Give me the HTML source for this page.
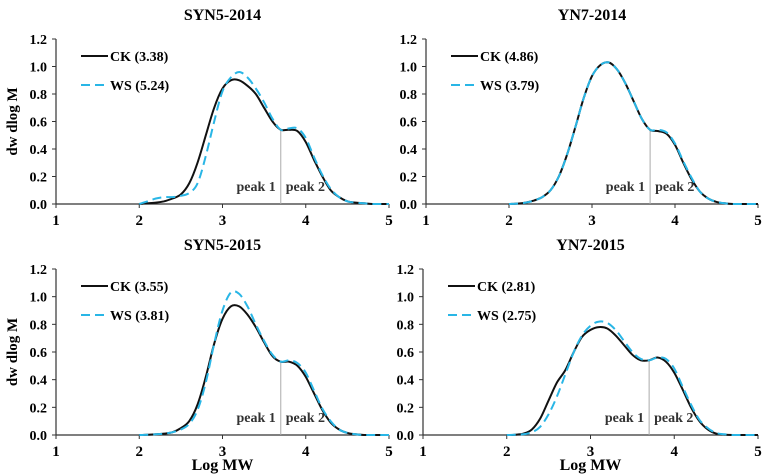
<!DOCTYPE html>
<html><head><meta charset="utf-8"><style>
body{margin:0;background:#fff}
svg{display:block;font-family:"Liberation Serif",serif;font-weight:bold}
</style></head><body>
<svg id="c" width="770" height="476" viewBox="0 0 770 476"></svg>
<script>
const xs=[2.0,2.1,2.2,2.3,2.4,2.5,2.6,2.7,2.8,2.9,3.0,3.1,3.2,3.3,3.4,3.5,3.6,3.7,3.8,3.9,4.0,4.1,4.2,4.3,4.4,4.5,4.6,4.7,4.8,4.9,5.0];
const titles=["SYN5-2014","YN7-2014","SYN5-2015","YN7-2015"];
const ckLabels=["CK (3.38)","CK (4.86)","CK (3.55)","CK (2.81)"];
const wsLabels=["WS (5.24)","WS (3.79)","WS (3.81)","WS (2.75)"];
const yTicks=[0,0.2,0.4,0.6,0.8,1.0,1.2];
const xTicks=[1,2,3,4,5];
const ck1=[0,0.005,0.01,0.02,0.04,0.07,0.15,0.3,0.5,0.7,0.84,0.9,0.9,0.86,0.8,0.7,0.6,0.54,0.54,0.53,0.45,0.32,0.2,0.1,0.05,0.02,0.01,0.005,0,0,0];
const ws1=[0,0.02,0.04,0.05,0.05,0.06,0.08,0.15,0.35,0.6,0.82,0.92,0.96,0.92,0.84,0.74,0.62,0.54,0.55,0.55,0.48,0.34,0.21,0.11,0.05,0.02,0.01,0.005,0,0,0];
const ck2=[0,0.003,0.01,0.025,0.05,0.1,0.2,0.36,0.56,0.77,0.93,1.01,1.03,0.98,0.88,0.75,0.62,0.54,0.53,0.51,0.43,0.3,0.18,0.09,0.04,0.015,0.005,0,0,0,0];
const ws2=[0,0.003,0.01,0.025,0.05,0.1,0.2,0.36,0.56,0.77,0.93,1.01,1.03,0.98,0.88,0.75,0.62,0.54,0.54,0.52,0.44,0.31,0.19,0.09,0.04,0.015,0.005,0,0,0,0];
const ck3=[0,0.002,0.005,0.01,0.02,0.05,0.1,0.22,0.42,0.66,0.84,0.93,0.93,0.87,0.78,0.67,0.57,0.53,0.53,0.5,0.42,0.3,0.18,0.09,0.04,0.015,0.005,0,0,0,0];
const ws3=[0,0.002,0.005,0.01,0.02,0.04,0.08,0.18,0.38,0.66,0.9,1.03,1.02,0.93,0.8,0.68,0.58,0.53,0.54,0.52,0.45,0.32,0.19,0.1,0.04,0.015,0.005,0,0,0,0];
const ck4=[0,0.002,0.01,0.04,0.12,0.25,0.38,0.47,0.6,0.71,0.76,0.78,0.77,0.72,0.65,0.58,0.54,0.54,0.56,0.53,0.45,0.33,0.2,0.1,0.04,0.01,0.003,0,0,0,0];
const ws4=[0,0.002,0.005,0.02,0.06,0.15,0.28,0.44,0.6,0.72,0.79,0.82,0.81,0.76,0.68,0.6,0.55,0.54,0.56,0.55,0.48,0.35,0.22,0.11,0.05,0.015,0.005,0,0,0,0];
const ckSeries=[ck1,ck2,ck3,ck4];
const wsSeries=[ws1,ws2,ws3,ws4];
const peakSplit=3.7;

const panels=[{x0:56,x5:389,y0:204,y12:39},{x0:426,x5:758,y0:204,y12:39},{x0:56,x5:389,y0:435,y12:269},{x0:423,x5:758,y0:435,y12:269}];
const NS="http://www.w3.org/2000/svg";
const svg=document.getElementById('c');
function mk(tag,attrs,parent,text){const e=document.createElementNS(NS,tag);for(const k in attrs)e.setAttribute(k,attrs[k]);if(text!==undefined)e.textContent=text;(parent||svg).appendChild(e);return e;}
function pathFor(pts){let d="M"+pts[0][0]+","+pts[0][1];for(let i=0;i<pts.length-1;i++){const p0=pts[Math.max(0,i-1)],p1=pts[i],p2=pts[i+1],p3=pts[Math.min(pts.length-1,i+2)];const c1=[p1[0]+(p2[0]-p0[0])/6,p1[1]+(p2[1]-p0[1])/6],c2=[p2[0]-(p3[0]-p1[0])/6,p2[1]-(p3[1]-p1[1])/6];d+=" C"+c1[0].toFixed(1)+","+c1[1].toFixed(1)+" "+c2[0].toFixed(1)+","+c2[1].toFixed(1)+" "+p2[0].toFixed(1)+","+p2[1].toFixed(1);}return d;}

panels.forEach((P,i)=>{
  const g=mk('g',{});
  
  
  const sx=v=>P.x0+(v-1)/4*(P.x5-P.x0);
  const sy=v=>P.y0-v/1.2*(P.y0-P.y12);
  const t=mk('text',{x:(P.x0+P.x5)/2,y:P.y12-19,'text-anchor':'middle','font-size':16},g,titles[i]);
  
  
  const ax=mk('line',{x1:P.x0,x2:P.x5,y1:P.y0,y2:P.y0,stroke:'#333','stroke-width':1.2},g);
  
  
  const ay=mk('line',{x1:P.x0,x2:P.x0,y1:P.y0,y2:P.y12,stroke:'#333','stroke-width':1.2},g);
  
  
  yTicks.forEach(v=>{
    mk('line',{x1:P.x0-4,x2:P.x0,y1:sy(v),y2:sy(v),stroke:'#333'},g);
    const l=mk('text',{x:P.x0-9,y:sy(v)+5,'text-anchor':'end','font-size':14},g,v.toFixed(1));
    
    
  });
  xTicks.forEach(v=>{
    mk('line',{x1:sx(v),x2:sx(v),y1:P.y0,y2:P.y0+4,stroke:'#333'},g);
    const l=mk('text',{x:sx(v),y:P.y0+21,'text-anchor':'middle','font-size':15},g,String(v));
    
    
  });
  const k=xs.indexOf(peakSplit);
  const sl=mk('line',{x1:sx(peakSplit),x2:sx(peakSplit),y1:P.y0,y2:sy(ckSeries[i][k]),stroke:'#aaa','stroke-width':1},g);
  
  
  const p1=mk('text',{x:sx(peakSplit)-5,y:P.y0-13,'text-anchor':'end','font-size':14,fill:'#333'},g,'peak 1');
  
  
  const p2=mk('text',{x:sx(peakSplit)+5,y:P.y0-13,'text-anchor':'start','font-size':14,fill:'#333'},g,'peak 2');
  
  
  const cp=mk('path',{d:pathFor(xs.map((x,j)=>[sx(x),sy(ckSeries[i][j])])),fill:'none',stroke:'#111','stroke-width':2},g);
  
  
  const wp=mk('path',{d:pathFor(xs.map((x,j)=>[sx(x),sy(wsSeries[i][j])])),fill:'none',stroke:'#29b6e6','stroke-width':2,'stroke-dasharray':'9,5'},g);
  
  
  const lx=P.x0+25, ly1=P.y12+17, ly2=P.y12+46;
  const lg=mk('g',{},g);
  
  
  mk('line',{x1:lx,x2:lx+27,y1:ly1,y2:ly1,stroke:'#111','stroke-width':2},lg);
  const t1=mk('text',{x:lx+29,y:ly1+5,'font-size':14},lg,ckLabels[i]);
  
  
  mk('line',{x1:lx,x2:lx+27,y1:ly2,y2:ly2,stroke:'#29b6e6','stroke-width':2,'stroke-dasharray':'9,5'},lg);
  const t2=mk('text',{x:lx+29,y:ly2+5,'font-size':14},lg,wsLabels[i]);
  
  
  if(i%2==0){
    const yl=mk('text',{x:0,y:0,transform:'translate(17,'+((P.y0+P.y12)/2)+') rotate(-90)','text-anchor':'middle','font-size':15},g,'dw dlog M');
    
    
  }
  if(i>=2){
    const xl=mk('text',{x:(P.x0+P.x5)/2,y:470,'text-anchor':'middle','font-size':16},g,'Log MW');
    
    
  }
});
</script>
</body></html>
